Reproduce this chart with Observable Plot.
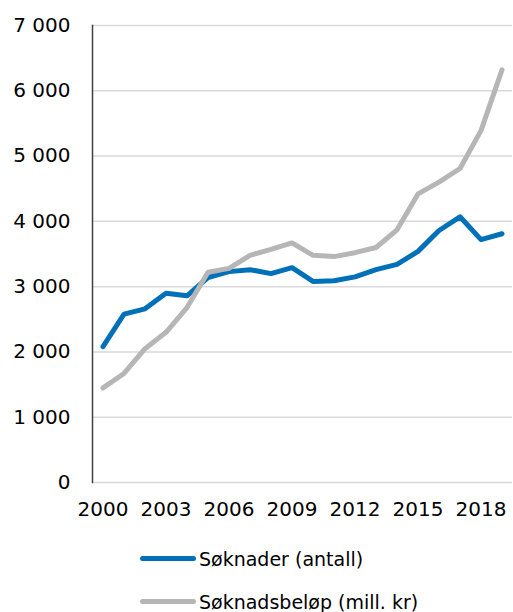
<!DOCTYPE html>
<html>
<head>
<meta charset="utf-8">
<script src="https://cdn.jsdelivr.net/npm/d3@7"></script>
<script src="https://cdn.jsdelivr.net/npm/@observablehq/plot@0.6"></script>
<style>
  html, body { margin: 0; padding: 0; background: #fff; }
  body { width: 513px; height: 612px; overflow: hidden; font-family: "DejaVu Sans", sans-serif; color: #000; }
  #chart svg { display: block; }
  .legend { margin-left: 140px; margin-top: 7px; }
  .item { display: flex; align-items: center; height: 43px; font-size: 19px; }
  .sw { width: 56px; height: 5px; border-radius: 3px; margin-right: 3px; }
</style>
</head>
<body>
<div id="chart"></div>
<div class="legend" id="legend"></div>
<script>
const years = [2000,2001,2002,2003,2004,2005,2006,2007,2008,2009,2010,2011,2012,2013,2014,2015,2016,2017,2018,2019];
const soknader = [2080,2580,2660,2900,2860,3140,3230,3260,3200,3290,3080,3090,3150,3260,3340,3540,3860,4070,3720,3810];
const belop = [1450,1670,2050,2300,2680,3220,3280,3480,3570,3670,3480,3460,3520,3600,3870,4420,4600,4810,5390,6320];
const seriesNames = ["Søknader (antall)", "Søknadsbeløp (mill. kr)"];
const seriesColors = ["#0070b9", "#b6b6b6"];
const yTicks = [0,1000,2000,3000,4000,5000,6000,7000];
const xTicks = [2000,2003,2006,2009,2012,2015,2018];

const data = [];
years.forEach((yr, i) => {
  data.push({year: yr, value: soknader[i], series: seriesNames[0]});
  data.push({year: yr, value: belop[i], series: seriesNames[1]});
});

const fmt = d3.formatLocale({thousands: "\u00a0", grouping: [3], decimal: ","}).format(",");

const chart = Plot.plot({
  width: 513,
  height: 530,
  marginTop: 25,
  marginBottom: 48,
  marginLeft: 92,
  marginRight: 1,
  style: {fontFamily: "'DejaVu Sans', sans-serif", fontSize: "20px", color: "#000", background: "#fff"},
  x: {domain: [1999.5, 2019.5], ticks: xTicks, tickFormat: d => String(d)},
  y: {domain: [0, 7000], ticks: yTicks, tickFormat: fmt},
  color: {domain: seriesNames, range: seriesColors},
  marks: [
    Plot.gridY(yTicks, {stroke: "#d9d9d9", strokeOpacity: 1, strokeWidth: 1.5}),
    Plot.frame({anchor: "left", stroke: "#404040", strokeWidth: 1.5}),
    Plot.axisY({ticks: yTicks, tickFormat: fmt, tickSize: 0, tickPadding: 22, label: null, fontSize: 20}),
    Plot.axisX({ticks: xTicks, tickFormat: d => String(d), tickSize: 0, tickPadding: 19, label: null, fontSize: 20}),
    Plot.line(data, {x: "year", y: "value", stroke: "series", z: "series", strokeWidth: 5, strokeLinejoin: "round", strokeLinecap: "round"})
  ]
});
document.getElementById("chart").appendChild(chart);

const legend = document.getElementById("legend");
seriesNames.forEach((name, i) => {
  const row = document.createElement("div");
  row.className = "item";
  const sw = document.createElement("div");
  sw.className = "sw";
  sw.style.background = seriesColors[i];
  const t = document.createElement("span");
  t.textContent = name;
  row.appendChild(sw);
  row.appendChild(t);
  legend.appendChild(row);
});
</script>
</body>
</html>
